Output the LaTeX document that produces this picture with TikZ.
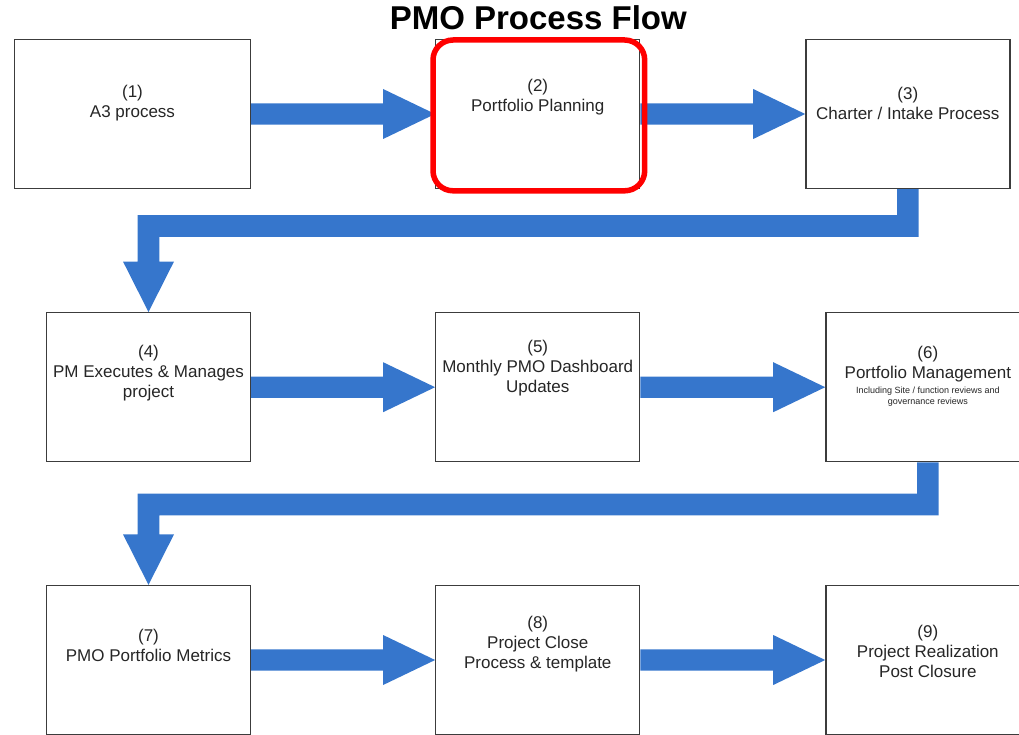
\documentclass[tikz,border=0pt]{standalone}
\usepackage{fontspec}
\setmainfont{Liberation Sans}
\usetikzlibrary{calc}

\definecolor{flowblue}{RGB}{54,118,204}
\definecolor{boxline}{RGB}{60,60,60}
\definecolor{boxtext}{RGB}{38,38,38}

\tikzset{
  stagebox/.style={draw=boxline, line width=1.3pt, fill=white,
    minimum width=204pt, minimum height=149pt, inner sep=0pt},
  stagetext/.style={text=boxtext, align=center, inner sep=0pt,
    font=\fontsize{17}{20}\selectfont},
  smalltext/.style={text=boxtext, align=center, inner sep=0pt,
    font=\fontsize{9}{10.7}\selectfont},
  flowfill/.style={fill=flowblue},
  highlight/.style={draw=red, line width=5.5pt, rounded corners=20pt},
}

% horizontal block arrow between two boxes of one row
\newcommand\rowarrow[2]{%
  \fill[flowfill] ($(#1.east)+(0,-10.6)$) -- ($(#2.west)+(-52,-10.6)$)
    -- ($(#2.west)+(-52,-25)$) -- (#2.west) -- ($(#2.west)+(-52,25)$)
    -- ($(#2.west)+(-52,10.6)$) -- ($(#1.east)+(0,10.6)$) -- cycle;}

% bent block arrow from the bottom of one box down to the top of another
\newcommand\bentarrow[3]{%
  \coordinate (#1-turn) at (#1.south |- 0,#3);
  \coordinate (#2-turn) at (#2.north |- 0,#3);
  \fill[flowfill] ($(#1.south)+(-10.8,0)$) -- ($(#1.south)+(10.8,0)$)
    -- ($(#1-turn)+(10.8,10.8)$) -- ($(#2-turn)+(10.8,10.8)$)
    -- ($(#2.north)+(10.8,-50.5)$) -- ($(#2.north)+(25.5,-50.5)$)
    -- (#2.north) -- ($(#2.north)+(-25.5,-50.5)$)
    -- ($(#2.north)+(-10.8,-50.5)$) -- ($(#2-turn)+(-10.8,-10.8)$)
    -- ($(#1-turn)+(-10.8,-10.8)$) -- cycle;}

\begin{document}
\begin{tikzpicture}[x=1pt,y=-1pt]
\useasboundingbox (0,0) rectangle (1019,735);
\clip (0,0) rectangle (1019,735);

% title
\node[anchor=base, font=\fontsize{33}{40}\selectfont\bfseries] (title)
  at (538.3,30) {PMO Process Flow};

% process stages
\node[stagebox, minimum width=236pt] (b1) at (132.5,114) {};
\node[stagebox] (b2) at (537.75,114) {};
\node[stagebox] (b3) at (907.85,114) {};
\node[stagebox] (b4) at (148.5,387.2) {};
\node[stagebox] (b5) at (537.75,387.2) {};
\node[stagebox] (b6) at (927.85,387.2) {};
\node[stagebox] (b7) at (148.5,660) {};
\node[stagebox] (b8) at (537.75,660) {};
\node[stagebox] (b9) at (927.85,660) {};

% stage labels
\node[stagetext] (t1) at (132.5,103.5) {(1)\\A3 process};
\node[stagetext] (t2) at (537.75,97.5) {(2)\\Portfolio Planning};
\node[stagetext] (t3) at (907.85,103.5) {(3)\\Charter / Intake Process};
\node[stagetext] (t4) at (148.5,373) {(4)\\PM Executes \& Manages\\project};
\node[stagetext] (t5) at (537.75,368) {(5)\\Monthly PMO Dashboard\\Updates};
\node[stagetext] (t6) at (927.85,364.5) {(6)\\Portfolio Management};
\node[smalltext] (t6s) at (927.85,397) {Including Site / function reviews and\\governance reviews};
\node[stagetext] (t7) at (148.5,645) {(7)\\PMO Portfolio Metrics};
\node[stagetext] (t8) at (537.75,644.5) {(8)\\Project Close\\Process \& template};
\node[stagetext] (t9) at (927.85,651) {(9)\\Project Realization\\Post Closure};

% flow arrows
\rowarrow{b1}{b2}
\rowarrow{b2}{b3}
\bentarrow{b3}{b4}{226}
\rowarrow{b4}{b5}
\rowarrow{b5}{b6}
\bentarrow{b6}{b7}{504.5}
\rowarrow{b7}{b8}
\rowarrow{b8}{b9}

% highlight around the planning stage
\draw[highlight] (433,40) rectangle (644.7,190.8);
\end{tikzpicture}
\end{document}
